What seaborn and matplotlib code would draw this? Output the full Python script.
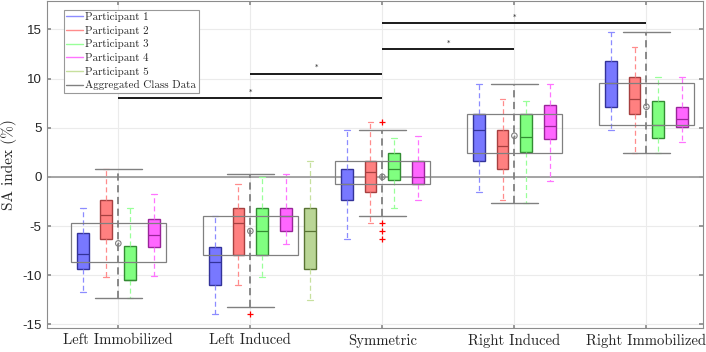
import numpy as np
import matplotlib
matplotlib.use("Agg")
import matplotlib.pyplot as plt
from matplotlib.lines import Line2D
import seaborn as sns

groups = ["Left Immobilized", "Left Induced", "Symmetric", "Right Induced", "Right Immobilized"]

# [whisker low, q1, median, q3, whisker high] per condition, None = no data
p1 = [[-11.75, -9.41, -7.85, -5.75, -3.14],
      [-14.0, -11.0, -8.67, -7.1, -3.95],
      [-6.29, -2.33, -0.77, 0.79, 4.76],
      [-1.58, 1.6, 4.76, 6.39, 9.44],
      [4.76, 7.13, 9.51, 11.78, 14.76]]
p2 = [[-10.2, -6.33, -3.89, -2.36, 0.8],
      [-11.0, -7.9, -4.73, -3.2, -0.77],
      [-4.73, -1.58, 0.45, 1.6, 5.54],
      [-2.36, 0.83, 3.17, 4.76, 7.88],
      [2.39, 6.36, 7.88, 10.18, 13.23]]
p3 = [[-12.36, -10.5, -10.5, -7.0, -3.14],
      [-10.2, -7.9, -5.51, -3.2, 0.0],
      [-3.2, -0.29, 0.79, 2.39, 3.98],
      [-2.63, 2.49, 4.08, 6.36, 7.74],
      [2.39, 3.92, 5.24, 7.68, 10.18]]
p4 = [[-10.05, -7.1, -5.92, -4.32, -1.75],
      [-6.87, -5.51, -3.95, -3.2, 0.25],
      [-2.33, -0.77, 0.0, 1.6, 4.15],
      [-0.43, 3.88, 5.17, 7.33, 9.44],
      [3.51, 5.1, 5.85, 7.13, 10.18]]
p5 = [None, [-12.53, -9.38, -5.51, -3.2, 1.6], None, None, None]
participants = ["Participant 1", "Participant 2", "Participant 3", "Participant 4", "Participant 5"]

# aggregated class data
agg_lo = [-12.36, -13.24, -3.95, -2.63, 2.39]
agg_q1 = [-8.7, -7.9, -0.77, 2.42, 5.24]
agg_q3 = [-4.73, -3.95, 1.6, 6.36, 9.51]
agg_hi = [0.8, 0.25, 4.76, 9.44, 14.76]
agg_mean = [-6.77, -5.51, 0.0, 4.18, 7.13]
agg_out = [[], [-14.0], [5.54, -4.73, -5.51, -6.29], [], []]

# significance bars (condition index 1..5)
sig_from = [1, 2, 3, 3]
sig_to = [3, 3, 4, 5]
sig_y = [8.0, 10.5, 13.0, 15.6]

yticks = [-15, -10, -5, 0, 5, 10, 15]

sns.set_theme(style="whitegrid")
plt.rcParams['font.family'] = 'serif'
plt.rcParams['font.serif'] = ['cmr10', 'DejaVu Serif']
plt.rcParams['axes.formatter.use_mathtext'] = True
plt.rcParams['axes.unicode_minus'] = False

fig, ax = plt.subplots(figsize=(7.06, 3.52), dpi=100)
fig.subplots_adjust(left=0.0666, right=0.996, bottom=0.068, top=0.997)

x = np.arange(1, 6)
offsets = [-0.27, -0.09, 0.09, 0.27, 0.45]
fills = [(0.47, 0.47, 1.0), (1.0, 0.5, 0.5), (0.5, 1.0, 0.5), (1.0, 0.4, 1.0), (0.73, 0.84, 0.59)]
edges = [(0.2, 0.2, 0.6), (0.65, 0.25, 0.25), (0.2, 0.55, 0.2), (0.6, 0.15, 0.6), (0.35, 0.45, 0.2)]
wcols = [(0.55, 0.55, 1.0), (1.0, 0.55, 0.55), (0.6, 1.0, 0.6), (1.0, 0.45, 1.0), (0.78, 0.88, 0.62)]
gray = (0.5, 0.5, 0.5)
dash = (0, (4, 2.5))

ax.axhline(0, color=(0.62, 0.62, 0.62), lw=1.3, zorder=1)

for k, rows in enumerate([p1, p2, p3, p4, p5]):
    st, pos = [], []
    for xi, r in zip(x, rows):
        if r is None:
            continue
        lo, q1, med, q3, hi = r
        st.append(dict(whislo=lo, q1=q1, med=med, q3=q3, whishi=hi, fliers=[]))
        pos.append(xi + offsets[k])
    ax.bxp(st, positions=pos, widths=0.09, capwidths=0.045, patch_artist=True,
           showfliers=False, manage_ticks=False, zorder=3,
           boxprops=dict(facecolor=fills[k], edgecolor=edges[k], linewidth=1),
           whiskerprops=dict(color=wcols[k], linestyle=dash, linewidth=0.9),
           capprops=dict(color=wcols[k], linewidth=0.9),
           medianprops=dict(color=edges[k], linewidth=0.9))

agg_stats = [dict(whislo=a, q1=b, med=m, q3=c, whishi=d, fliers=f)
             for a, b, m, c, d, f in zip(agg_lo, agg_q1, agg_mean, agg_q3, agg_hi, agg_out)]
ax.bxp(agg_stats, positions=x, widths=0.72, capwidths=0.36, patch_artist=True,
       showfliers=True, manage_ticks=False, zorder=4,
       boxprops=dict(facecolor='none', edgecolor=gray, linewidth=0.9),
       whiskerprops=dict(linestyle='none'),
       capprops=dict(color=gray, linewidth=1),
       medianprops=dict(linewidth=0),
       flierprops=dict(marker='+', markeredgecolor='red', markersize=4, markeredgewidth=0.9))
ax.vlines(x, agg_lo, agg_hi, colors=[gray], linestyles=[dash], linewidth=1.3, zorder=4)
sns.scatterplot(x=x, y=agg_mean, marker='o', s=16, fc='none', ec=gray, linewidth=0.8, ax=ax, zorder=5)
sns.scatterplot(x=x, y=agg_mean, marker='o', s=2, color=gray, linewidth=0, ax=ax, zorder=5)

ax.hlines(sig_y, sig_from, sig_to, colors='k', linewidth=1.4, zorder=5)
for a, b, yv in zip(sig_from, sig_to, sig_y):
    ax.text((a + b) / 2, yv + 0.35, '*', fontsize=5, ha='center', va='bottom', family='DejaVu Sans')

ax.set_xlim(0.46, 5.43)
ax.set_ylim(-15.38, 17.88)
ax.set_xticks(x)
ax.set_xticklabels(groups, fontsize=10.6)
ax.set_yticks(yticks)
ax.set_yticklabels([str(v) for v in yticks], fontsize=9.5, family='Liberation Sans')
ax.set_ylabel("SA index (%)", fontsize=11)
ax.grid(True, color=(0.92, 0.92, 0.92), linewidth=0.8)
for s in ax.spines.values():
    s.set_color((0.55, 0.55, 0.55))
    s.set_linewidth(0.8)
ax.tick_params(direction='in', length=3, color=(0.55, 0.55, 0.55), top=True, right=True,
               bottom=True, left=True, pad=4)

handles = [Line2D([], [], color=c, lw=1) for c in wcols]
handles.append(Line2D([], [], color=gray, lw=1))
leg = ax.legend(handles, participants + ["Aggregated Class Data"], loc='upper left',
                bbox_to_anchor=(0.026, 0.9725), borderaxespad=0, fontsize=7.9,
                fancybox=False, framealpha=1, edgecolor=(0.6, 0.6, 0.6),
                handlelength=1.5, handletextpad=0.25, labelspacing=0.33, borderpad=0.2)
leg.get_frame().set_linewidth(0.8)
leg.set_zorder(10)

fig.savefig("out.png", dpi=100)
